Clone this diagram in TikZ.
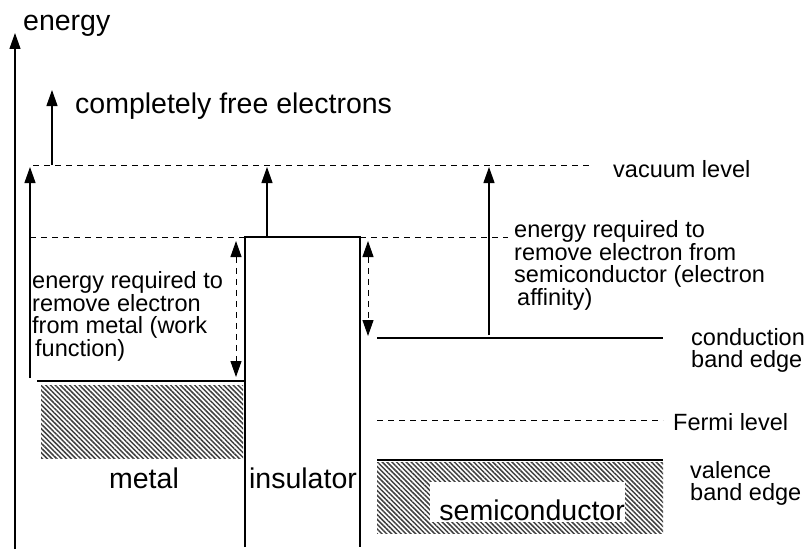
\documentclass[tikz,border=0pt]{standalone}
\usepackage{fontspec}
\setmainfont{Liberation Sans}
\usepackage{tikz}
\usetikzlibrary{arrows.meta,patterns.meta}
\tikzset{
  arr/.style={-{Triangle[length=16pt,width=11pt]},line width=1.2pt},
  darr/.style={{Triangle[length=16pt,width=11pt]}-{Triangle[length=16pt,width=11pt]},
    line width=1pt,dash pattern=on 6pt off 5pt},
  lvl/.style={line width=0.9pt,dash pattern=on 6pt off 5pt},
  edge/.style={line width=1.2pt},
  hatch/.style={pattern={Lines[angle=-45,distance=3.4pt,line width=1.5pt]},pattern color=black!75},
  big/.style={font=\fontsize{28.5}{30}\selectfont,inner sep=0pt},
  small/.style={font=\fontsize{23.5}{21.7}\selectfont,inner sep=0pt,align=left},
}
\begin{document}
\begin{tikzpicture}[x=1pt,y=-1pt]
  \useasboundingbox (0,0) rectangle (810,551);
  % axis
  \coordinate (axisB) at (15,549);
  \coordinate (axisT) at (15,33);
  \draw[arr] (axisB) -- (axisT);
  \node[big,anchor=base west] (energy) at (23,30.5) {energy};
  % vacuum level
  \coordinate (vacL) at (33,165);
  \coordinate (vacR) at (593,165);
  \draw[lvl] (vacL) -- (vacR);
  \node[small,anchor=base west] (vaclab) at (613,177) {vacuum level};
  \coordinate (freeB) at (52,165);
  \coordinate (freeT) at (52,90);
  \draw[arr] (freeB) -- (freeT);
  \node[big,anchor=base west] (free) at (75,113) {completely free electrons};
  % insulator
  \coordinate (insBL) at (245,547);
  \coordinate (insTL) at (245,237);
  \coordinate (insTR) at (360,237);
  \coordinate (insBR) at (360,547);
  \draw[edge] (insBL) -- (insTL) -- (insTR) -- (insBR);
  \coordinate (topL) at (30,237);
  \coordinate (topR) at (508,237);
  \draw[lvl] (topL) -- (topR);
  \draw[arr] (267,237) coordinate (insA) -- (267,167) coordinate (insB);
  \node[big,anchor=base] (inslab) at (303,488) {insulator};
  % metal
  \coordinate (metL) at (37,381);
  \coordinate (metR) at (245,381);
  \draw[edge] (metL) -- (metR);
  \fill[hatch] (41,385) coordinate (hatchA) rectangle (243,458) coordinate (hatchB);
  \draw[arr] (30,378) coordinate (wfB) -- (30,167) coordinate (wfT);
  \draw[darr] (236,241) coordinate (wfdT) -- (236,377) coordinate (wfdB);
  \node[small,anchor=north west] (wflab) at (32,271.5)
    {energy required to\\remove electron\\from metal (work\\\hspace{3pt}function)};
  \node[big,anchor=base] (metlab) at (144,488) {metal};
  % semiconductor
  \coordinate (cbL) at (377,338);
  \coordinate (cbR) at (663,338);
  \draw[edge] (cbL) -- (cbR);
  \node[small,anchor=north west] (cblab) at (691,328.5) {conduction\\band edge};
  \draw[darr] (368,241) coordinate (eadT) -- (368,336) coordinate (eadB);
  \draw[arr] (489,335) coordinate (eaB) -- (489,167) coordinate (eaT);
  \node[small,anchor=north west] (ealab) at (514,220.5)
    {energy required to\\remove electron from\\semiconductor (electron\\\hspace{3pt}affinity)};
  \coordinate (efL) at (377,420);
  \coordinate (efR) at (663,420);
  \draw[lvl] (efL) -- (efR);
  \node[small,anchor=base west] (eflab) at (673,430) {Fermi level};
  \coordinate (vbL) at (377,460);
  \coordinate (vbR) at (663,460);
  \draw[edge] (vbL) -- (vbR);
  \fill[hatch] (377,462) coordinate (hatchC) rectangle (663,533) coordinate (hatchD);
  \node[small,anchor=north west] (vblab) at (690,461.5) {valence\\band edge};
  \node[big,anchor=base east,fill=white,text width=195pt,align=right,
    text height=38pt,text depth=2pt] (semlab) at (625,520) {semiconductor};
\end{tikzpicture}
\end{document}
